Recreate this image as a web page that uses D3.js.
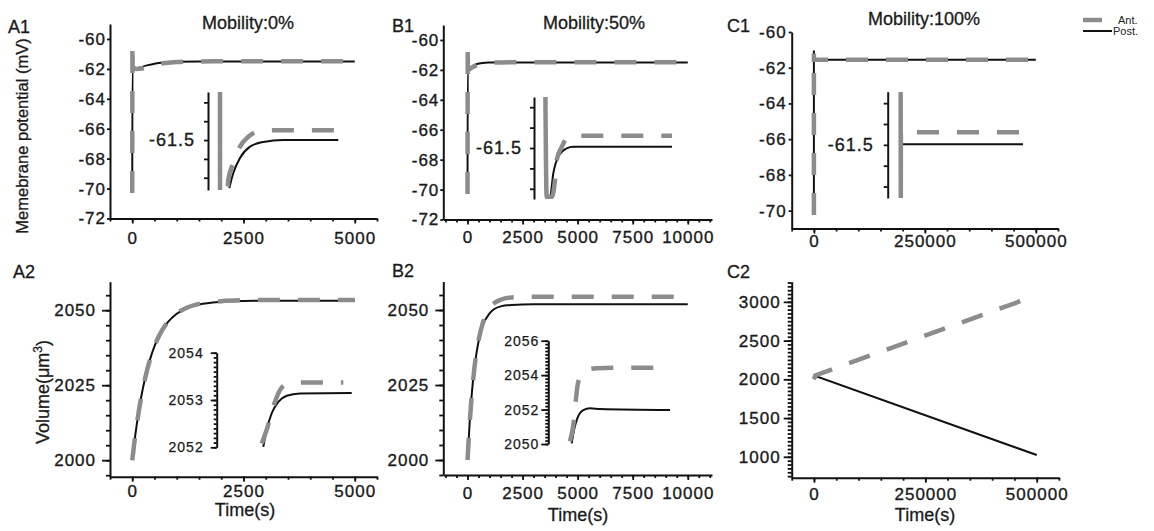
<!DOCTYPE html>
<html>
<head>
<meta charset="utf-8">
<script src="https://cdnjs.cloudflare.com/ajax/libs/d3/7.8.5/d3.min.js"></script>
<style>
body { margin: 0; background: #fff; }
svg { display: block; font-family: Arial, "Liberation Sans", sans-serif; }
.axis path { stroke: #111; stroke-width: 2; }
.axis line { stroke: #111; stroke-width: 1.8; }
.axis text { font-family: Arial, "Liberation Sans", sans-serif; font-size: 17px; letter-spacing: 1px; fill: #1a1a1a; stroke: #1a1a1a; stroke-width: 0.35px; }
.inset text { font-size: 14px; stroke-width: 0.25px; }
.insetBig text { font-size: 18px; }
.lbl { font-size: 18px; fill: #1a1a1a; stroke: #1a1a1a; stroke-width: 0.3px; }
</style>
</head>
<body>
<svg id="chart" width="1154" height="531"></svg>
<script>
// ---- data ----
// A1 / B1 / C1 : membrane potential (mV)
const a1Time = [0, 5, 10, 100, 200, 350, 500, 750, 1000, 1500, 2000, 3000, 5000];
const a1Ant  = [-70.3, -60.4, -61.9, -62.0, -61.98, -61.85, -61.72, -61.6, -61.54, -61.5, -61.49, -61.49, -61.49];
const a1Post = [-70.0, -62.0, -62.05, -61.98, -61.88, -61.75, -61.65, -61.57, -61.53, -61.5, -61.5, -61.5, -61.5];

const b1Time = [0, 10, 20, 100, 200, 400, 600, 800, 1000, 1500, 2000, 3000, 10000];
const b1Ant  = [-70.3, -60.4, -62.0, -61.95, -61.85, -61.7, -61.6, -61.55, -61.52, -61.5, -61.49, -61.49, -61.49];
const b1Post = [-70.0, -62.0, -62.0, -61.9, -61.78, -61.62, -61.55, -61.52, -61.51, -61.5, -61.5, -61.5, -61.5];

const c1Time = [0, 1, 2, 500000];
const c1Ant  = [-70.25, -61.2, -61.55, -61.55];
const c1Post = [-70.2, -61.03, -61.55, -61.55];

// insets of the potential panels
const a1InAntTime  = [0, 1, 300, 346, 554, 833, 1179, 1529, 2200, 5000];
const a1InAnt      = [-61.449, -61.56, -61.56, -61.542, -61.5245, -61.507, -61.4965, -61.4913, -61.4895, -61.4895];
const a1InPostTime = [388, 554, 833, 1250, 1804, 2638, 4930];
const a1InPost     = [-61.551, -61.535, -61.519, -61.507, -61.502, -61.5, -61.5];

const b1InAntTime  = [0, 100, 500, 760, 890, 1290, 1810, 2600, 10000];
const b1InAnt      = [-61.449, -61.548, -61.548, -61.531, -61.512, -61.499, -61.489, -61.488, -61.488];
const b1InPostTime = [0, 60, 363, 624, 1019, 1682, 2204, 10000];
const b1InPost     = [-61.499, -61.548, -61.548, -61.525, -61.5085, -61.5003, -61.4988, -61.4988];

const c1InAntTime  = [0, 500, 1000, 500000];
const c1InAnt      = [-61.449, -61.551, -61.488, -61.488];
const c1InPostTime = [0, 500, 500000];
const c1InPost     = [-61.479, -61.4995, -61.4995];

// A2 / B2 / C2 : volume (um^3)
const a2Time = [0, 50, 100, 200, 300, 400, 500, 600, 800, 1000, 1250, 1500, 2000, 2500, 3000, 5000];
const a2Ant  = [2000, 2006.2, 2011.7, 2020.9, 2028.0, 2033.6, 2038.0, 2041.4, 2046.1, 2048.9, 2051.0, 2052.1, 2053.0, 2053.3, 2053.37, 2053.37];
const a2Post = [2000, 2006.3, 2011.8, 2021.0, 2028.1, 2033.6, 2038.0, 2041.4, 2046.0, 2048.8, 2050.9, 2051.9, 2052.8, 2053.1, 2053.15, 2053.15];

const b2Time = [0, 100, 200, 300, 400, 500, 700, 1000, 1500, 2000, 3000, 10000];
const b2Ant  = [2000, 2012.6, 2022.3, 2029.8, 2035.5, 2039.9, 2045.8, 2050.6, 2053.4, 2054.2, 2054.45, 2054.45];
const b2Post = [2000, 2012.9, 2022.6, 2029.9, 2035.3, 2039.5, 2044.9, 2048.9, 2051.2, 2051.7, 2051.95, 2051.95];

const c2AntTime  = [0, 3000, 475000];
const c2Ant      = [2000, 2050, 3033];
const c2PostTime = [0, 2000, 500000];
const c2Post     = [2000, 2045, 1023];

// insets of the volume panels
const a2InAntTime  = [1667, 1852, 2096, 2344, 2530, 3270, 4690];
const a2InAnt      = [2052.08, 2052.37, 2052.86, 2053.21, 2053.32, 2053.37, 2053.37];
const a2InPostTime = [1726, 1852, 2037, 2281, 2593, 3085, 5000];
const a2InPost     = [2052.01, 2052.37, 2052.72, 2052.96, 2053.09, 2053.14, 2053.15];

const b2InAntTime  = [1783, 2112, 2276, 2465, 3155, 3977, 5620, 9180];
const b2InAnt      = [2050.15, 2051.39, 2052.65, 2053.62, 2054.30, 2054.40, 2054.43, 2054.43];
const b2InPostTime = [1923, 2112, 2383, 2876, 3426, 4248, 10000];
const b2InPost     = [2050.04, 2050.81, 2051.49, 2051.97, 2052.07, 2052.03, 2051.97];

// tick labels
const xTicksA = [0, 2500, 5000];
const xTicksB = [0, 2500, 5000, 7500, 10000];
const xTicksC = [0, 250000, 500000];
const yTicksAB1 = [-72, -70, -68, -66, -64, -62, -60];
const yTicksC1 = [-70, -68, -66, -64, -62, -60];
const yTicksAB2 = [2000, 2025, 2050];
const yTicksC2 = [1000, 1500, 2000, 2500, 3000];
const insetTicksV = [-61.54, -61.52, -61.5, -61.48, -61.46];
const insetTicksA2 = [2052, 2053, 2054];
const insetTicksB2 = [2050, 2052, 2054, 2056];

const GRAY = '#8c8c8c';
const BLACK = '#111';

const svg = d3.select('#chart');
const zip = (t, v) => t.map((d, i) => [d, v[i]]);
let clipId = 0;

// dash pattern, optionally with a solid first stretch (the spike in the insets)
function dashes(lead) {
    const pat = [];
    if (lead) pat.push(lead, 18);
    for (let i = 0; i < 40; i++) pat.push(22, 18);
    return pat.join(',');
}

function drawLines(g, x, y, antT, ant, postT, post, curve, lead) {
    const line = d3.line()
        .x(d => x(d[0]))
        .y(d => y(d[1]))
        .curve(curve || d3.curveMonotoneX);

    g.append('path')
        .datum(zip(postT, post))
        .attr('fill', 'none')
        .attr('stroke', BLACK)
        .attr('stroke-width', 2)
        .attr('d', line);

    g.append('path')
        .datum(zip(antT, ant))
        .attr('fill', 'none')
        .attr('stroke', GRAY)
        .attr('stroke-width', 4.5)
        .attr('stroke-dasharray', dashes(lead))
        .attr('d', line);
}

// Function to draw one main panel with its axes
function panel(o) {
    const x = d3.scaleLinear().domain(o.xDomain).range(o.xRange);
    const y = d3.scaleLinear().domain(o.yDomain).range(o.yRange);
    const g = svg.append('g');
    const xAxisY = o.yRange[0];
    const yAxisX = o.xRange[0];

    // minor ticks first
    g.append('g')
        .attr('class', 'axis')
        .attr('transform', `translate(0,${xAxisY})`)
        .call(d3.axisBottom(x).tickValues(o.xMinor).tickSize(3).tickFormat(''))
        .call(s => s.select('.domain').remove());
    if (o.yMinor) {
        g.append('g')
            .attr('class', 'axis')
            .attr('transform', `translate(${yAxisX},0)`)
            .call(d3.axisLeft(y).tickValues(o.yMinor).tickSize(4).tickFormat(''))
            .call(s => s.select('.domain').remove());
    }

    g.append('g')
        .attr('class', 'axis')
        .attr('transform', `translate(0,${xAxisY})`)
        .call(d3.axisBottom(x)
            .tickValues(o.xTicks)
            .tickSize(5)
            .tickSizeOuter(0)
            .tickPadding(o.xPad)
            .tickFormat(d3.format('d')));

    g.append('g')
        .attr('class', 'axis')
        .attr('transform', `translate(${yAxisX},0)`)
        .call(d3.axisLeft(y)
            .tickValues(o.yTicks)
            .tickSize(o.yTickSize)
            .tickSizeOuter(0)
            .tickPadding(o.yPad)
            .tickFormat(d => String(d)));

    drawLines(g, x, y, o.antT, o.ant, o.postT, o.post, o.curve);
    return g;
}

// Function to draw an inset (y axis only, clipped lines)
function inset(o) {
    const x = d3.scaleLinear().domain(o.xDomain).range(o.xRange);
    const y = d3.scaleLinear().domain(o.yDomain).range(o.yRange);
    const g = svg.append('g');
    const id = 'clip' + (clipId++);

    g.append('clipPath').attr('id', id)
        .append('rect')
        .attr('x', o.xRange[0] + 2)
        .attr('y', o.yRange[1])
        .attr('width', o.xRange[1] - o.xRange[0] + 10)
        .attr('height', o.yRange[0] - o.yRange[1]);

    if (o.minor) {
        g.append('g')
            .attr('class', 'axis')
            .attr('transform', `translate(${o.xRange[0]},0)`)
            .call(d3.axisLeft(y).tickValues(o.minor).tickSize(3).tickFormat(''))
            .call(s => s.select('.domain').remove());
    }
    g.append('g')
        .attr('class', 'axis ' + o.cls)
        .attr('transform', `translate(${o.xRange[0]},0)`)
        .call(d3.axisLeft(y)
            .tickValues(o.ticks)
            .tickSize(o.tickSize)
            .tickSizeOuter(0)
            .tickPadding(o.pad)
            .tickFormat(o.format));

    const lg = g.append('g').attr('clip-path', `url(#${id})`);
    drawLines(lg, x, y, o.antT, o.ant, o.postT, o.post, null, o.lead);
}

const minorA = d3.range(-500, 5501, 500);
const minorB = d3.range(-1000, 11001, 500);
const minorC = d3.range(-50000, 550001, 50000);
const v615 = d => (Math.abs(d + 61.5) < 1e-9 ? '-61.5' : '');

// ---- top row ----
panel({ xDomain: [-500, 5500], xRange: [110, 377], yDomain: [-72, -59], yRange: [218.5, 24],
    xTicks: xTicksA, xMinor: minorA, yTicks: yTicksAB1, yTickSize: 3, yPad: 1, xPad: 8,
    antT: a1Time, ant: a1Ant, postT: a1Time, post: a1Post });
panel({ xDomain: [-1100, 11100], xRange: [443.3, 712], yDomain: [-72, -59], yRange: [219.5, 25],
    xTicks: xTicksB, xMinor: minorB, yTicks: yTicksAB1, yTickSize: 3, yPad: 1, xPad: 6,
    antT: b1Time, ant: b1Ant, postT: b1Time, post: b1Post });
panel({ xDomain: [-50000, 550000], xRange: [791.7, 1058], yDomain: [-71, -60], yRange: [228.5, 32],
    xTicks: xTicksC, xMinor: minorC, yTicks: yTicksC1, yTickSize: 3, yPad: 2, xPad: 1,
    antT: c1Time, ant: c1Ant, postT: c1Time, post: c1Post });

inset({ xDomain: [-500, 5000], xRange: [208, 340], yDomain: [-61.553, -61.449], yRange: [190, 92],
    ticks: insetTicksV, tickSize: 4, pad: 9, format: v615, cls: 'insetBig', lead: 104,
    antT: a1InAntTime, ant: a1InAnt, postT: a1InPostTime, post: a1InPost });
inset({ xDomain: [-900, 10000], xRange: [534, 672], yDomain: [-61.55, -61.45], yRange: [199, 97],
    ticks: insetTicksV, tickSize: 4, pad: 8, format: v615, cls: 'insetBig', lead: 125,
    antT: b1InAntTime, ant: b1InAnt, postT: b1InPostTime, post: b1InPost });
inset({ xDomain: [-53000, 500000], xRange: [887.7, 1023], yDomain: [-61.551, -61.449], yRange: [198, 91.7],
    ticks: insetTicksV, tickSize: 4, pad: 10, format: v615, cls: 'insetBig', lead: 170,
    antT: c1InAntTime, ant: c1InAnt, postT: c1InPostTime, post: c1InPost });

// ---- bottom row ----
panel({ xDomain: [-500, 5500], xRange: [110, 377], yDomain: [1994.5, 2059.5], yRange: [476.7, 281.7],
    xTicks: xTicksA, xMinor: minorA, yTicks: yTicksAB2, yMinor: d3.range(1995, 2060, 5),
    yTickSize: 8, yPad: 6, xPad: 3,
    antT: a2Time, ant: a2Ant, postT: a2Time, post: a2Post });
panel({ xDomain: [-1100, 11100], xRange: [443.3, 712], yDomain: [1995, 2059.5], yRange: [475, 281.5],
    xTicks: xTicksB, xMinor: minorB, yTicks: yTicksAB2, yMinor: d3.range(1995, 2060, 5),
    yTickSize: 8, yPad: 6, xPad: 7,
    antT: b2Time, ant: b2Ant, postT: b2Time, post: b2Post });
panel({ xDomain: [-50000, 550000], xRange: [791.7, 1059], yDomain: [730, 3260], yRange: [477.7, 281.7],
    xTicks: xTicksC, xMinor: minorC, yTicks: yTicksC2, yMinor: d3.range(750, 3260, 50),
    yTickSize: 8, yPad: 3, xPad: 5, curve: d3.curveLinear,
    antT: c2AntTime, ant: c2Ant, postT: c2PostTime, post: c2Post });

inset({ xDomain: [0, 5000], xRange: [216.7, 351.7], yDomain: [2052, 2054], yRange: [447.3, 352.7],
    ticks: insetTicksA2, minor: d3.range(2052, 2054.001, 0.1), tickSize: 6, pad: 7,
    format: d3.format('d'), cls: 'inset',
    antT: a2InAntTime, ant: a2InAnt, postT: a2InPostTime, post: a2InPost });
inset({ xDomain: [0, 10000], xRange: [548.3, 670], yDomain: [2050, 2056], yRange: [444, 340.7],
    ticks: insetTicksB2, minor: d3.range(2050, 2056.001, 0.2), tickSize: 7, pad: 2,
    format: d3.format('d'), cls: 'inset',
    antT: b2InAntTime, ant: b2InAnt, postT: b2InPostTime, post: b2InPost });

// ---- texts ----
const labels = [
    ['A1', 8, 33], ['B1', 392, 32], ['C1', 727, 32],
    ['A2', 13, 278], ['B2', 392, 277], ['C2', 727, 278]
];
labels.forEach(l => {
    svg.append('text').attr('class', 'lbl').attr('x', l[1]).attr('y', l[2]).text(l[0]);
});

[['Mobility:0%', 248, 29], ['Mobility:50%', 594, 29], ['Mobility:100%', 924, 25]].forEach(t => {
    svg.append('text').attr('class', 'lbl').attr('x', t[1]).attr('y', t[2])
        .attr('text-anchor', 'middle').text(t[0]);
});

[['Time(s)', 245, 516], ['Time(s)', 578, 521], ['Time(s)', 925, 521]].forEach(t => {
    svg.append('text').attr('class', 'lbl').attr('x', t[1]).attr('y', t[2])
        .attr('text-anchor', 'middle').text(t[0]);
});

svg.append('text').attr('class', 'lbl')
    .attr('transform', 'translate(28,136) rotate(-90)')
    .attr('text-anchor', 'middle')
    .style('font-size', '16.5px')
    .text('Memebrane potential (mV)');

const vol = svg.append('text').attr('class', 'lbl')
    .attr('transform', 'translate(49,392) rotate(-90)')
    .attr('text-anchor', 'middle');
vol.append('tspan').text('Volume(μm');
vol.append('tspan').attr('dy', -7).attr('font-size', 12).text('3');
vol.append('tspan').attr('dy', 7).text(')');

// legend
const legend = svg.append('g');
legend.append('line').attr('x1', 1083).attr('x2', 1102).attr('y1', 20).attr('y2', 20)
    .attr('stroke', GRAY).attr('stroke-width', 4.5);
legend.append('text').attr('x', 1118).attr('y', 24).attr('font-size', 11).attr('fill', '#222').text('Ant.');
legend.append('line').attr('x1', 1083).attr('x2', 1112).attr('y1', 31).attr('y2', 31)
    .attr('stroke', BLACK).attr('stroke-width', 2);
legend.append('text').attr('x', 1113).attr('y', 35).attr('font-size', 11).attr('fill', '#222').text('Post.');
</script>
</body>
</html>
